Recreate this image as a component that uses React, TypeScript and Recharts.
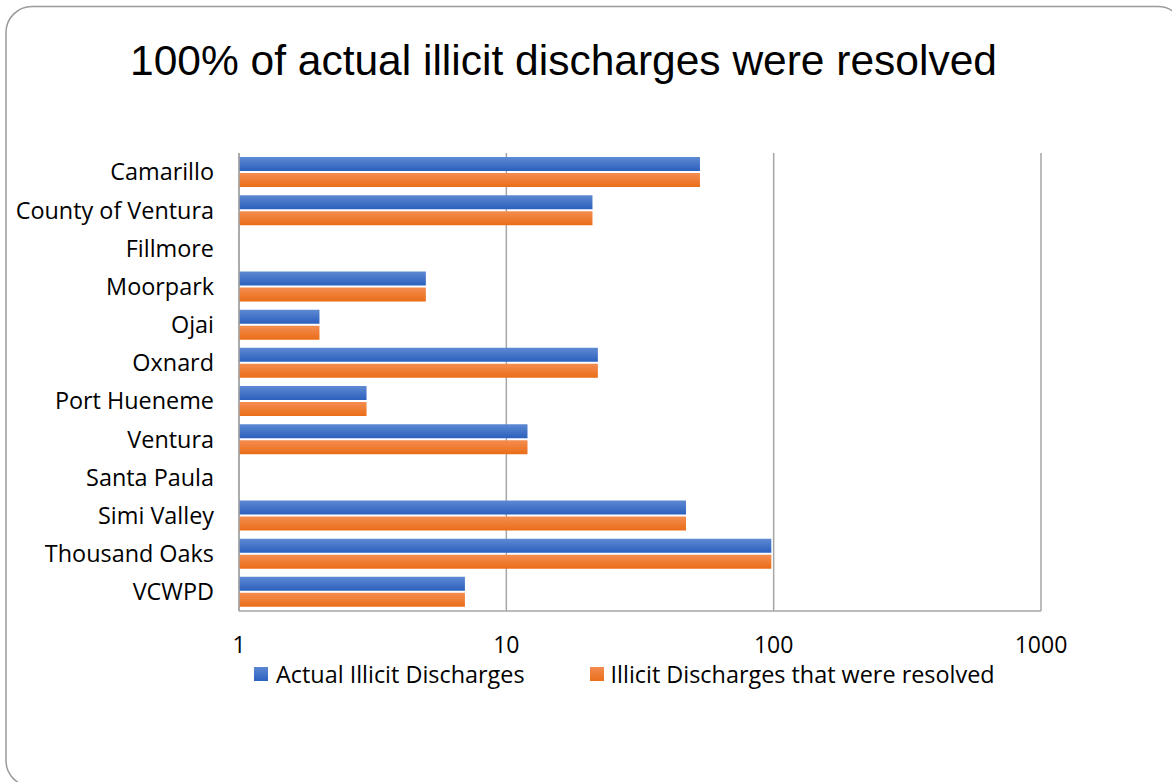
import React from "react";
import { BarChart, Bar, XAxis, YAxis, CartesianGrid, Legend } from "recharts";

const categories = [
  "Camarillo",
  "County of Ventura",
  "Fillmore",
  "Moorpark",
  "Ojai",
  "Oxnard",
  "Port Hueneme",
  "Ventura",
  "Santa Paula",
  "Simi Valley",
  "Thousand Oaks",
  "VCWPD",
];
const actualDischarges = [53, 21, null, 5, 2, 22, 3, 12, null, 47, 98, 7];
const resolvedDischarges = [53, 21, null, 5, 2, 22, 3, 12, null, 47, 98, 7];
const xTicks = [1, 10, 100, 1000];
const seriesNames = ["Actual Illicit Discharges", "Illicit Discharges that were resolved"];

const data = categories.map((name, i) => ({
  name,
  actual: actualDischarges[i],
  resolved: resolvedDischarges[i],
}));

const FONT = "'Open Sans', Lato, sans-serif";

const LegendContent = () => (
  <div style={{ display: "flex", alignItems: "center", fontFamily: FONT, fontSize: 23.4, lineHeight: "24px", color: "#000", height: 24, whiteSpace: "nowrap" }}>
    <span style={{ display: "inline-block", width: 14, height: 14, background: "linear-gradient(#5b87d1,#2e62bf)", marginRight: 8 }} />
    <span style={{ marginRight: 65 }}>{seriesNames[0]}</span>
    <span style={{ display: "inline-block", width: 14, height: 14, background: "linear-gradient(#f38b4f,#eb6f1a)", marginRight: 7 }} />
    <span>{seriesNames[1]}</span>
  </div>
);

export default function App() {
  return (
    <div style={{ position: "absolute", left: 0, top: 0, width: 1172, height: 782, background: "#fff", overflow: "hidden" }}>
      <svg width={1172} height={782} style={{ position: "absolute", left: 0, top: 0 }}>
        <rect x={6} y={6.5} width={1178} height={780} rx={26} ry={26} fill="#fff" stroke="#9a9a9a" strokeWidth={1.5} />
        <text x={130} y={75} fontFamily="'Liberation Sans', Arial, sans-serif" fontSize={42.5} fill="#000">
          100% of actual illicit discharges were resolved
        </text>
      </svg>
      <div style={{ position: "absolute", left: 0, top: 0 }}>
        <BarChart
          width={1172}
          height={782}
          data={data}
          layout="vertical"
          margin={{ top: 153, right: 131, bottom: 131, left: 0 }}
          barGap={2}
          barCategoryGap={4}
        >
          <defs>
            <linearGradient id="gBlue" x1="0" y1="0" x2="0" y2="1">
              <stop offset="0%" stopColor="#5e8ad3" />
              <stop offset="100%" stopColor="#2c60bd" />
            </linearGradient>
            <linearGradient id="gOrange" x1="0" y1="0" x2="0" y2="1">
              <stop offset="0%" stopColor="#f48d52" />
              <stop offset="100%" stopColor="#ea6d17" />
            </linearGradient>
          </defs>
          <CartesianGrid horizontal={false} vertical={true} stroke="#a6a6a6" strokeWidth={1.5} />
          <XAxis
            type="number"
            scale="log"
            domain={[1, 1000]}
            ticks={xTicks}
            allowDataOverflow
            height={40}
            tickLine={false}
            tickSize={0}
            tickMargin={26}
            axisLine={{ stroke: "#a6a6a6", strokeWidth: 1.5 }}
            tick={{ fontFamily: FONT, fontSize: 23, fill: "#000" }}
            interval={0}
          />
          <YAxis
            type="category"
            dataKey="name"
            width={239}
            tickLine={false}
            tickSize={0}
            tickMargin={25}
            axisLine={{ stroke: "#a6a6a6", strokeWidth: 1.5 }}
            tick={{ fontFamily: FONT, fontSize: 23.4, fill: "#000" }}
            interval={0}
          />
          <Legend
            verticalAlign="middle"
            align="center"
            layout="horizontal"
            content={<LegendContent />}
            wrapperStyle={{ position: "absolute", top: 662, left: 254, width: 900, height: 24 }}
          />
          <Bar dataKey="actual" name={seriesNames[0]} fill="url(#gBlue)" barSize={14} isAnimationActive={false} />
          <Bar dataKey="resolved" name={seriesNames[1]} fill="url(#gOrange)" barSize={14} isAnimationActive={false} />
        </BarChart>
      </div>
    </div>
  );
}
